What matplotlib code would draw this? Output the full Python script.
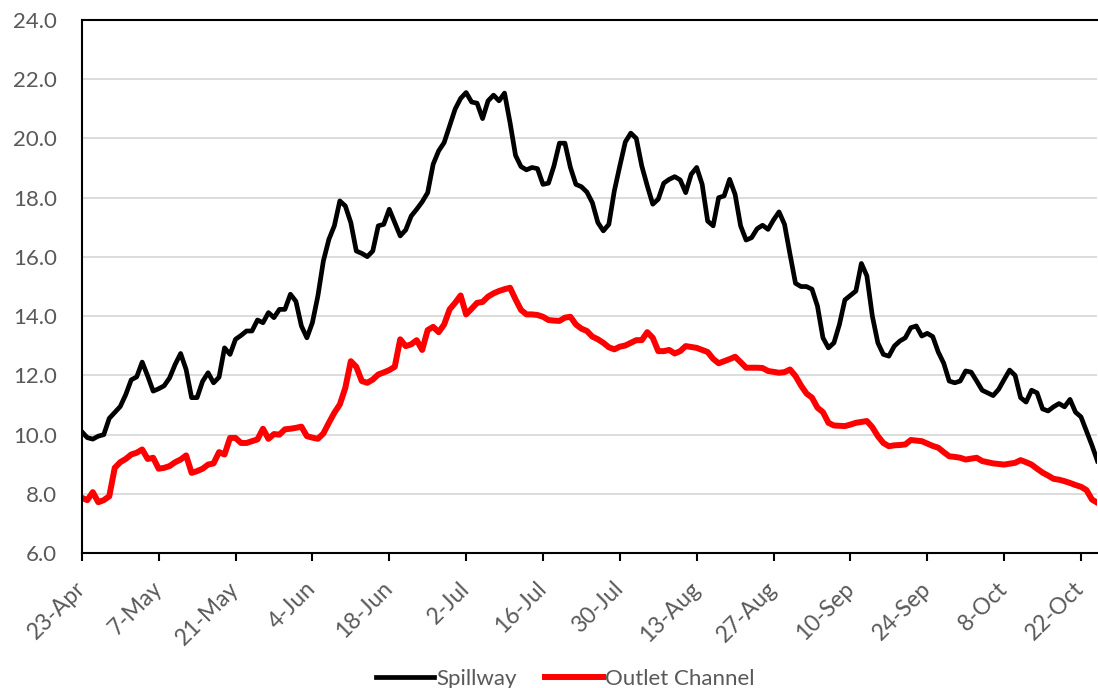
import matplotlib.pyplot as plt
import matplotlib.transforms as mtransforms
import numpy as np

# daily values, 23-Apr .. 25-Oct
spillway = [
    10.1, 9.9, 9.85, 9.95, 10.0, 10.55, 10.75, 10.95, 11.35, 11.85,
    11.95, 12.45, 11.98, 11.47, 11.55, 11.65, 11.92, 12.37, 12.74, 12.2,
    11.25, 11.25, 11.8, 12.09, 11.75, 11.94, 12.93, 12.71, 13.22, 13.35,
    13.5, 13.5, 13.87, 13.78, 14.12, 13.95, 14.23, 14.23, 14.74, 14.5,
    13.67, 13.27, 13.78, 14.68, 15.86, 16.59, 17.05, 17.89, 17.72, 17.16,
    16.2, 16.12, 16.01, 16.2, 17.05, 17.1, 17.61, 17.16, 16.71, 16.91,
    17.38, 17.61, 17.86, 18.17, 19.13, 19.58, 19.86, 20.42, 20.99, 21.35,
    21.55, 21.23, 21.19, 20.67, 21.27, 21.46, 21.27, 21.53, 20.54, 19.43,
    19.05, 18.94, 19.02, 18.98, 18.45, 18.49, 19.07, 19.84, 19.84, 19.02,
    18.45, 18.37, 18.19, 17.83, 17.16, 16.88, 17.1, 18.23, 19.07, 19.88,
    20.18, 20.0, 19.07, 18.4, 17.78, 17.95, 18.49, 18.62, 18.71, 18.6,
    18.17, 18.79, 19.02, 18.45, 17.21, 17.05, 18.0, 18.06, 18.62, 18.11,
    17.05, 16.57, 16.65, 16.95, 17.07, 16.93, 17.25, 17.52, 17.1, 16.09,
    15.11, 15.0, 15.0, 14.91, 14.34, 13.27, 12.93, 13.1, 13.72, 14.55,
    14.7, 14.85, 15.78, 15.36, 14.0, 13.1, 12.71, 12.65, 12.99, 13.16,
    13.27, 13.61, 13.67, 13.33, 13.42, 13.31, 12.79, 12.41, 11.81, 11.75,
    11.81, 12.15, 12.11, 11.81, 11.5, 11.41, 11.32, 11.53, 11.86, 12.18,
    12.0, 11.25, 11.1, 11.5, 11.41, 10.87, 10.8, 10.94, 11.05, 10.94,
    11.19, 10.76, 10.6, 10.12, 9.64, 9.11,
]

outlet_channel = [
    7.87, 7.79, 8.06, 7.72, 7.79, 7.92, 8.88, 9.07, 9.18, 9.33,
    9.39, 9.5, 9.18, 9.22, 8.85, 8.88, 8.94, 9.07, 9.16, 9.3,
    8.71, 8.77, 8.85, 8.99, 9.03, 9.41, 9.33, 9.89, 9.89, 9.72,
    9.72, 9.78, 9.84, 10.2, 9.86, 10.02, 10.0, 10.18, 10.2, 10.23,
    10.27, 9.95, 9.9, 9.86, 10.04, 10.4, 10.74, 11.02, 11.58, 12.48,
    12.29, 11.81, 11.75, 11.86, 12.03, 12.1, 12.18, 12.29, 13.22, 12.99,
    13.05, 13.19, 12.86, 13.53, 13.64, 13.46, 13.72, 14.23, 14.45, 14.7,
    14.06, 14.25, 14.45, 14.48, 14.66, 14.77, 14.85, 14.91, 14.96, 14.57,
    14.21, 14.06, 14.06, 14.04, 13.98, 13.87, 13.85, 13.84, 13.95, 13.98,
    13.72, 13.58, 13.5, 13.31, 13.22, 13.1, 12.95, 12.88, 12.97, 13.01,
    13.1, 13.19, 13.19, 13.46, 13.27, 12.82, 12.82, 12.86, 12.74, 12.82,
    12.99, 12.96, 12.93, 12.86, 12.79, 12.56, 12.41, 12.48, 12.55, 12.63,
    12.45, 12.26, 12.26, 12.26, 12.25, 12.15, 12.12, 12.09, 12.11, 12.2,
    11.98, 11.66, 11.39, 11.25, 10.91, 10.76, 10.4, 10.31, 10.3, 10.29,
    10.34, 10.4, 10.43, 10.46, 10.25, 9.95, 9.72, 9.61, 9.64, 9.65,
    9.67, 9.82, 9.8, 9.78, 9.7, 9.62, 9.56, 9.41, 9.27, 9.25,
    9.22, 9.16, 9.19, 9.22, 9.11, 9.07, 9.03, 9.01, 8.99, 9.02,
    9.05, 9.14, 9.07, 8.99, 8.85, 8.72, 8.62, 8.51, 8.48, 8.43,
    8.37, 8.3, 8.24, 8.13, 7.81, 7.7,
]

tick_labels = ["23-Apr", "7-May", "21-May", "4-Jun", "18-Jun", "2-Jul", "16-Jul",
               "30-Jul", "13-Aug", "27-Aug", "10-Sep", "24-Sep", "8-Oct", "22-Oct"]

dates = np.datetime64("2017-04-23") + np.arange(len(spillway))

plt.rcParams["font.family"] = ["Lato", "DejaVu Sans"]
text_grey = "#595959"

fig = plt.figure(figsize=(10.98, 6.88), dpi=100)
ax = fig.add_axes([0.0745, 0.196, 0.925, 0.775])

ax.plot(dates, spillway, color="black", lw=3.4, label="Spillway")
ax.plot(dates, outlet_channel, color="#ff0000", lw=4.3, label="Outlet Channel")

ax.set_xlim(dates[0], dates[-1])
ax.set_ylim(6, 24)
ax.set_yticks(np.arange(6, 24.1, 2))
ax.set_yticklabels([f"{v:.1f}" for v in np.arange(6, 24.1, 2)])
ax.yaxis.grid(True, color="#d9d9d9", lw=1.3)
ax.set_axisbelow(True)

ax.set_xticks(dates[::14])
ax.set_xticklabels(tick_labels, rotation=45, ha="right", va="center",
                   rotation_mode="anchor")
shift = mtransforms.ScaledTranslation(5 / 100, 0, fig.dpi_scale_trans)
for lbl in ax.get_xticklabels():
    lbl.set_transform(lbl.get_transform() + shift)

for s in ["left", "bottom", "top"]:
    ax.spines[s].set_color("black")
    ax.spines[s].set_linewidth(1.5)
ax.spines["right"].set_visible(False)

ax.tick_params(axis="y", length=0, pad=18, labelsize=16, labelcolor=text_grey)
ax.tick_params(axis="x", length=6, width=1.5, direction="out", pad=17,
               labelsize=16.5, labelcolor=text_grey)

fig.legend(loc="lower center", bbox_to_anchor=(0.515, -0.03), ncol=2, frameon=False,
           fontsize=16, labelcolor=text_grey, handlelength=2.6, handletextpad=0.1,
           columnspacing=1.3)

fig.savefig("out.png", dpi=100)
